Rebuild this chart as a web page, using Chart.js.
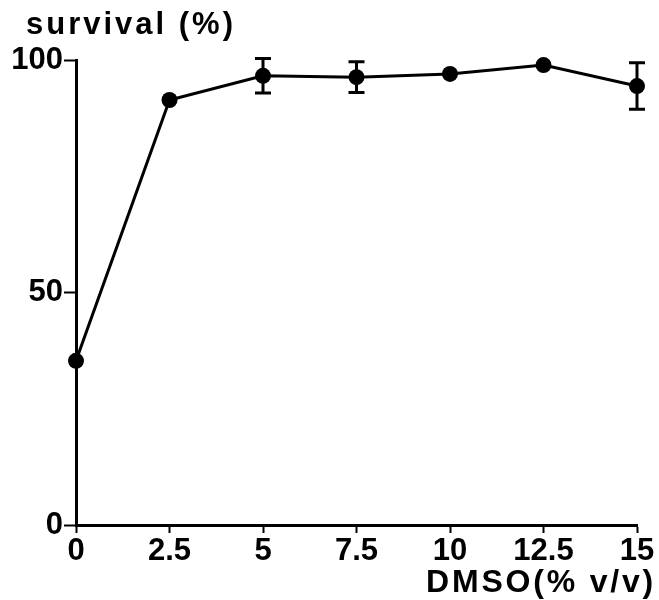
<!DOCTYPE html>
<html>
<head>
<meta charset="utf-8">
<script src="https://cdn.jsdelivr.net/npm/chart.js@4"></script>
<style>
  html, body { margin: 0; padding: 0; background: #fff; }
  #wrap { width: 659px; height: 600px; }
</style>
</head>
<body>
<div id="wrap"><canvas id="chart" width="659" height="600"></canvas></div>
<script>
// ----------------------------------------------------
// DATA
// ----------------------------------------------------
const dmso = [0, 2.5, 5, 7.5, 10, 12.5, 15];
const survival = [35.3, 91.4, 96.6, 96.3, 97.0, 98.9, 94.4];
const survivalErr = [0, 0, 3.7, 3.3, 0, 0, 5.0];
const xTicks = [0, 2.5, 5, 7.5, 10, 12.5, 15];
const yTicks = [0, 50, 100];

const yTitle = "survival (%)";
const xTitle = "DMSO(% v/v)";

// ----------------------------------------------------
// PLUGINS
// ----------------------------------------------------
const errorBarPlugin = {
    id: "errorBars",
    afterDatasetsDraw(chart) {
        const { ctx, scales } = chart;
        ctx.save();
        ctx.strokeStyle = "#000";
        ctx.lineWidth = 3;
        survivalErr.forEach((e, i) => {
            if (!e) return;
            const x = scales.x.getPixelForValue(dmso[i]);
            const yHi = scales.y.getPixelForValue(survival[i] + e);
            const yLo = scales.y.getPixelForValue(survival[i] - e);
            ctx.beginPath();
            ctx.moveTo(x, yHi); ctx.lineTo(x, yLo);
            ctx.moveTo(x - 8, yHi); ctx.lineTo(x + 8, yHi);
            ctx.moveTo(x - 8, yLo); ctx.lineTo(x + 8, yLo);
            ctx.stroke();
        });
        ctx.restore();
    }
};

// axis titles drawn outside the chart area
const titlesPlugin = {
    id: "axisTitles",
    afterDraw(chart) {
        const { ctx, chartArea } = chart;
        ctx.save();
        ctx.fillStyle = "#000";
        ctx.textBaseline = "alphabetic";

        ctx.font = "bold 31px 'Liberation Sans', Arial, sans-serif";
        ctx.letterSpacing = "3px";
        ctx.textAlign = "left";
        ctx.fillText(yTitle, 26, 34);

        ctx.font = "bold 32px 'Liberation Sans', Arial, sans-serif";
        ctx.letterSpacing = "2.8px";
        ctx.textAlign = "right";
        ctx.fillText(xTitle, chartArea.right + 19, 592);
        ctx.restore();
    }
};

// ----------------------------------------------------
// CHART
// ----------------------------------------------------
const tickFont = { family: "'Liberation Sans', Arial, sans-serif", size: 31, weight: "bold" };

new Chart(document.getElementById("chart"), {
    type: "line",
    data: {
        datasets: [{
            data: dmso.map((x, i) => ({ x, y: survival[i] })),
            borderColor: "#000",
            borderWidth: 3,
            backgroundColor: "#000",
            pointRadius: 8,
            pointBorderWidth: 0,
            pointBackgroundColor: "#000",
            tension: 0,
            clip: false
        }]
    },
    options: {
        responsive: false,
        animation: false,
        layout: { padding: { left: 0, top: 60, right: 22, bottom: 0 } },
        plugins: {
            legend: { display: false },
            tooltip: { enabled: false }
        },
        scales: {
            x: {
                type: "linear",
                min: 0,
                max: 15,
                afterBuildTicks: s => { s.ticks = xTicks.map(v => ({ value: v })); },
                afterFit: s => { s.height = 75; },
                grid: { drawOnChartArea: false, tickLength: 8, tickWidth: 2, tickColor: "#000" },
                border: { color: "#000", width: 3 },
                ticks: { color: "#000", font: tickFont, padding: 0, maxRotation: 0 }
            },
            y: {
                min: 0,
                max: 100,
                afterBuildTicks: s => { s.ticks = yTicks.map(v => ({ value: v })); },
                afterFit: s => { s.width = 76; },
                grid: { drawOnChartArea: false, tickLength: 12, tickWidth: 2, tickColor: "#000" },
                border: { color: "#000", width: 3 },
                ticks: { color: "#000", font: tickFont, padding: 1 }
            }
        }
    },
    plugins: [errorBarPlugin, titlesPlugin]
});
</script>
</body>
</html>
